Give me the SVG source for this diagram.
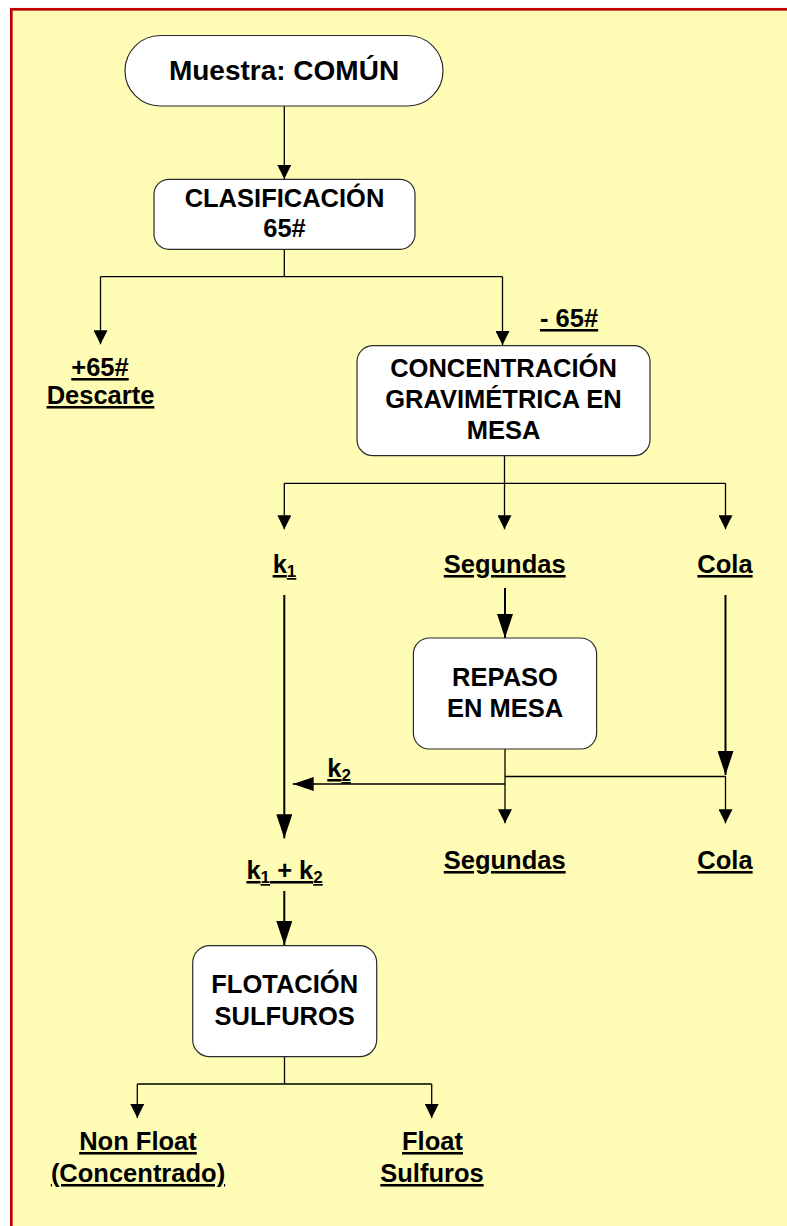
<svg xmlns="http://www.w3.org/2000/svg" width="787" height="1226" viewBox="0 0 787 1226">
  <style>
    .t { font-family: "Liberation Sans", Arial, sans-serif; font-weight: bold; font-size: 25.5px; fill: #000; text-anchor: middle; }
    .u { text-decoration: underline; }
    .box { fill: #fff; stroke: #2b2b2b; stroke-width: 1.2; }
    .ln { fill: none; stroke: #000; stroke-width: 1.3; }
    .lnb { fill: none; stroke: #000; stroke-width: 2; }
  </style>
  <defs>
    <marker id="arrS" markerUnits="userSpaceOnUse" markerWidth="14" markerHeight="14" refX="14" refY="7" orient="auto">
      <path d="M0,0 L14,7 L0,14 Z" fill="#000"/>
    </marker>
    <marker id="arrL" markerUnits="userSpaceOnUse" markerWidth="24" markerHeight="16" refX="24" refY="8" orient="auto">
      <path d="M0,0 L24,8 L0,16 Z" fill="#000"/>
    </marker>
    <marker id="arrM" markerUnits="userSpaceOnUse" markerWidth="21" markerHeight="14" refX="21" refY="7" orient="auto">
      <path d="M0,0 L21,7 L0,14 Z" fill="#000"/>
    </marker>
  </defs>

  <!-- page background with red frame -->
  <rect x="0" y="0" width="787" height="1226" fill="#ffffff"/>
  <rect x="11.3" y="9.3" width="800" height="1240" fill="#fffdb5" stroke="#c00000" stroke-width="2.7"/>

  <!-- connectors -->
  <g id="connectors">
    <path class="ln" d="M284.3,106 V179" marker-end="url(#arrS)"/>
    <path class="ln" d="M284.3,249.3 V276.7 M100.5,276.7 H502.5"/>
    <path class="ln" d="M100.5,276.7 V344.3" marker-end="url(#arrS)"/>
    <path class="ln" d="M502.5,276.7 V345" marker-end="url(#arrS)"/>

    <path class="ln" d="M504.5,455.7 V483.3 M284.3,483.3 H725.5"/>
    <path class="ln" d="M284.3,483.3 V529.3" marker-end="url(#arrS)"/>
    <path class="ln" d="M504.5,483.3 V529.3" marker-end="url(#arrS)"/>
    <path class="ln" d="M725.5,483.3 V529.3" marker-end="url(#arrS)"/>

    <path class="lnb" d="M284.3,595 V838.3" marker-end="url(#arrL)"/>
    <path class="lnb" d="M505,588 V638" marker-end="url(#arrL)"/>
    <path class="lnb" d="M725.5,595 V775" marker-end="url(#arrL)"/>

    <path class="ln" d="M505,749 V823.3" marker-end="url(#arrS)"/>
    <path class="ln" d="M505,776.5 H725.5"/>
    <path class="ln" d="M725.5,776 V823.3" marker-end="url(#arrS)"/>
    <path class="ln" d="M505,784 H292.7" marker-end="url(#arrM)"/>

    <path class="lnb" d="M284.3,891 V945" marker-end="url(#arrL)"/>

    <path class="ln" d="M284.5,1056.7 V1084 M137.3,1084 H431.7"/>
    <path class="ln" d="M137.3,1084 V1118" marker-end="url(#arrS)"/>
    <path class="ln" d="M431.7,1084 V1118" marker-end="url(#arrS)"/>
  </g>

  <!-- nodes -->
  <g id="start">
    <rect class="box" x="125" y="35.5" width="318" height="70.5" rx="35.25"/>
    <text class="t" x="284" y="80" style="font-size:28px">Muestra: COMÚN</text>
  </g>

  <g id="clasificacion">
    <rect class="box" x="154" y="179.3" width="261" height="70" rx="15"/>
    <text class="t" x="284.5" y="207">CLASIFICACIÓN</text>
    <text class="t" x="284.5" y="237">65#</text>
  </g>

  <g id="menos65">
    <text class="t u" x="569" y="327">- 65#</text>
  </g>

  <g id="descarte">
    <text class="t u" x="100" y="376">+65#</text>
    <text class="t u" x="100.5" y="404">Descarte</text>
  </g>

  <g id="concentracion">
    <rect class="box" x="357" y="345.7" width="293" height="110" rx="16"/>
    <text class="t" x="503.5" y="377">CONCENTRACIÓN</text>
    <text class="t" x="503.5" y="408">GRAVIMÉTRICA EN</text>
    <text class="t" x="503.5" y="439">MESA</text>
  </g>

  <g id="k1">
    <text class="t u" x="284.5" y="573">k<tspan font-size="17" dy="4">1</tspan></text>
  </g>

  <g id="segundas1">
    <text class="t u" x="504.7" y="573">Segundas</text>
  </g>

  <g id="cola1">
    <text class="t u" x="725" y="573">Cola</text>
  </g>

  <g id="repaso">
    <rect class="box" x="413.4" y="638" width="183.2" height="111" rx="16"/>
    <text class="t" x="505" y="686">REPASO</text>
    <text class="t" x="505" y="717">EN MESA</text>
  </g>

  <g id="k2">
    <text class="t u" x="327.3" y="777" style="text-anchor:start">k<tspan font-size="17" dy="4">2</tspan></text>
  </g>

  <g id="segundas2">
    <text class="t u" x="504.7" y="869">Segundas</text>
  </g>

  <g id="cola2">
    <text class="t u" x="725" y="869">Cola</text>
  </g>

  <g id="k1k2">
    <text class="t u" x="284.6" y="879">k<tspan font-size="17" dy="4">1</tspan><tspan dy="-4"> + k</tspan><tspan font-size="17" dy="4">2</tspan></text>
  </g>

  <g id="flotacion">
    <rect class="box" x="192.7" y="945.7" width="184" height="111" rx="17"/>
    <text class="t" x="284.7" y="993">FLOTACIÓN</text>
    <text class="t" x="284.7" y="1025">SULFUROS</text>
  </g>

  <g id="nonfloat">
    <text class="t u" x="138" y="1150">Non Float</text>
    <text class="t u" x="138" y="1182">(Concentrado)</text>
  </g>

  <g id="float">
    <text class="t u" x="432.5" y="1150">Float</text>
    <text class="t u" x="432" y="1182">Sulfuros</text>
  </g>
</svg>
